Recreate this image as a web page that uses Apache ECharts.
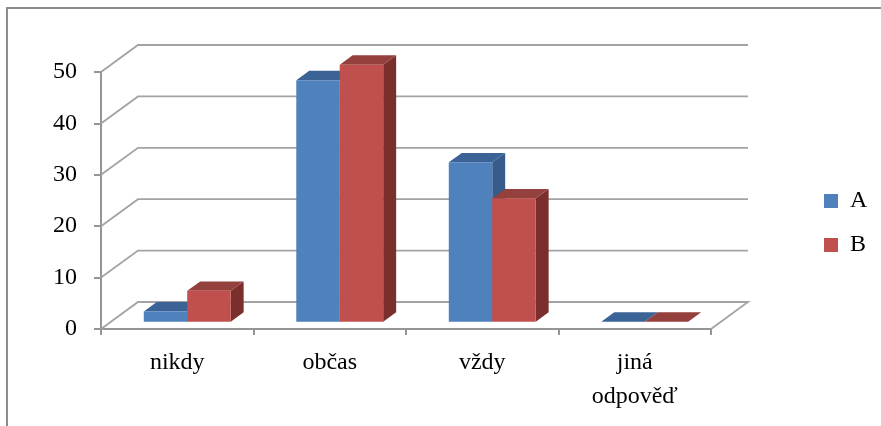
<!DOCTYPE html>
<html>
<head>
<meta charset="utf-8">
<script src="https://cdn.jsdelivr.net/npm/echarts@6/dist/echarts.min.js"></script>
<style>
html,body{margin:0;padding:0;background:#fff;}
#chart{width:881px;height:426px;}
</style>
</head>
<body>
<div id="chart"></div>
<script>
// ---- data ----
var categories = ['nikdy', 'občas', 'vždy', 'jiná\nodpověď'];
var seriesNames = ['A', 'B'];
var valuesA = [2, 47, 31, 0];
var valuesB = [6, 50, 24, 0];
var yTicks = [0, 10, 20, 30, 40, 50];

// ---- style constants ----
var FONT = '"Liberation Serif", "Times New Roman", serif';
var DEPTH_X = 37, DEPTH_Y = 27;           // full floor depth
var BAR_FRONT = 0.27, BAR_DEPTH = 0.35;   // bar placement in depth
var BAR_W_RATIO = 0.285;
var colors = {
  A: {front: '#4f81bd', top: '#3b6396', side: '#375c8b'},
  B: {front: '#c0504d', top: '#94403d', side: '#7a2f2d'}
};

function barRenderer(seriesIdx, col) {
  return function (params, api) {
    var cat = api.value(0), val = api.value(1);
    var base = api.coord([cat, 0]);
    var top = api.coord([cat, val]);
    var band = api.size([1, 0])[0];
    var bw = band * BAR_W_RATIO;
    var ox = DEPTH_X * BAR_FRONT, oy = DEPTH_Y * BAR_FRONT;
    var dx = DEPTH_X * BAR_DEPTH, dy = DEPTH_Y * BAR_DEPTH;
    var x0 = base[0] - bw + seriesIdx * bw + ox;
    var x1 = x0 + bw;
    var yb = base[1] - oy, yt = top[1] - oy;
    return {
      type: 'group',
      children: [
        {type: 'polygon', shape: {points: [[x1, yt], [x1 + dx, yt - dy], [x1 + dx, yb - dy], [x1, yb]]},
         style: {fill: col.side}},
        {type: 'polygon', shape: {points: [[x0, yt], [x1, yt], [x1 + dx, yt - dy], [x0 + dx, yt - dy]]},
         style: {fill: col.top}},
        {type: 'rect', shape: {x: x0, y: yt, width: bw, height: yb - yt},
         style: {fill: col.front}}
      ]
    };
  };
}

function gridRenderer(params, api) {
  var cs = params.coordSys;
  var y = api.coord([0, api.value(1)])[1];
  var pts = [[cs.x, y], [cs.x + DEPTH_X, y - DEPTH_Y], [cs.x + cs.width + DEPTH_X, y - DEPTH_Y]];
  if (api.value(1) === 0) pts.push([cs.x + cs.width, y]);
  return {
    type: 'polyline',
    shape: {points: pts},
    style: {stroke: '#a3a3a3', lineWidth: 1.8, fill: null}
  };
}

var chart = echarts.init(document.getElementById('chart'));
chart.setOption({
  animation: false,
  backgroundColor: '#ffffff',
  graphic: [{
    type: 'rect', z: -10, silent: true,
    shape: {x: 7, y: 8, width: 900, height: 500},
    style: {fill: null, stroke: '#8c8c8c', lineWidth: 2}
  }],
  grid: {left: 101, right: 170, top: 72, bottom: 97},
  legend: {
    orient: 'vertical',
    left: 819, top: 184,
    itemWidth: 14, itemHeight: 14, itemGap: 20,
    icon: 'rect',
    data: seriesNames,
    textStyle: {fontFamily: FONT, fontSize: 24, lineHeight: 24, color: '#000', padding: [0, 0, 0, 7]}
  },
  xAxis: {
    type: 'category',
    data: categories,
    axisLine: {lineStyle: {color: '#959595', width: 2}},
    axisTick: {show: true, length: 6, lineStyle: {color: '#959595', width: 2}},
    axisLabel: {fontFamily: FONT, fontSize: 24, lineHeight: 34, color: '#000', margin: 17, interval: 0},
    splitLine: {show: false}
  },
  yAxis: {
    type: 'value',
    min: 0, max: 50, interval: 10,
    axisLine: {show: true, lineStyle: {color: '#959595', width: 2}},
    axisTick: {show: true, length: 7, lineStyle: {color: '#959595', width: 2}},
    axisLabel: {fontFamily: FONT, fontSize: 24, color: '#000', margin: 24},
    splitLine: {show: false}
  },
  series: [
    {
      type: 'custom', name: 'grid', silent: true, clip: false, z: 1,
      renderItem: gridRenderer,
      data: yTicks.map(function (v) { return [0, v]; }),
      tooltip: {show: false}
    },
    {
      type: 'custom', name: seriesNames[0], clip: false, z: 2,
      itemStyle: {color: colors.A.front},
      renderItem: barRenderer(0, colors.A),
      data: valuesA.map(function (v, i) { return [i, v]; })
    },
    {
      type: 'custom', name: seriesNames[1], clip: false, z: 3,
      itemStyle: {color: colors.B.front},
      renderItem: barRenderer(1, colors.B),
      data: valuesB.map(function (v, i) { return [i, v]; })
    }
  ]
});
</script>
</body>
</html>
